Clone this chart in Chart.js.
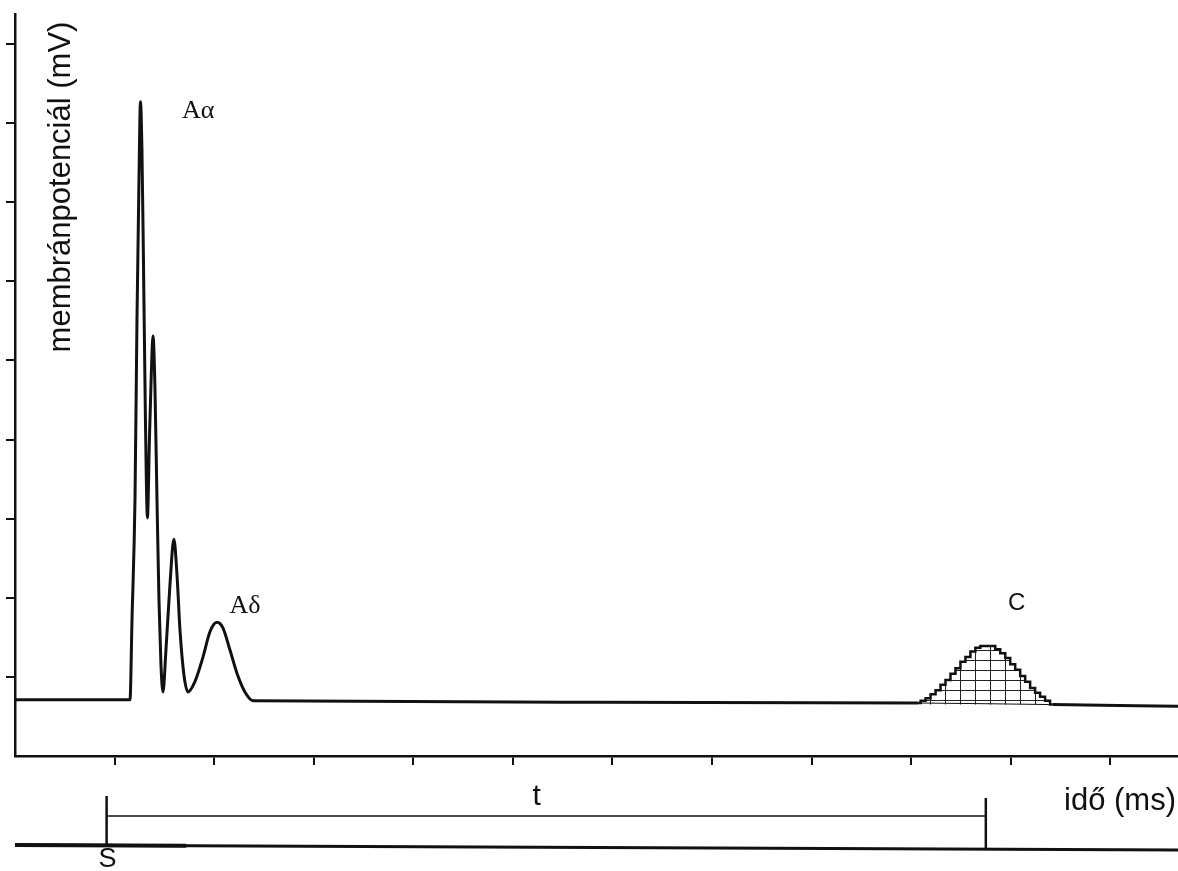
<!DOCTYPE html>
<html>
<head>
<meta charset="utf-8">
<script src="https://cdn.jsdelivr.net/npm/chart.js@4.4.1/dist/chart.umd.min.js"></script>
<style>
  html, body { margin: 0; padding: 0; background: #fff; }
  canvas { display: block; }
</style>
</head>
<body>
<canvas id="myChart" width="1178" height="871"></canvas>
<script>
// A rostok (Aα, Aβ/γ, Aδ) összetett akciós potenciálja
const idoA = [0, 1.155, 1.175, 1.205, 1.225, 1.245, 1.26, 1.275, 1.29, 1.31, 1.33, 1.35, 1.37, 1.386, 1.406, 1.426, 1.446, 1.466, 1.486, 1.516, 1.556, 1.596, 1.627, 1.657, 1.697, 1.737, 1.807, 1.888, 1.958, 2.028, 2.088, 2.159, 2.239, 2.309, 2.39, 5.87, 9.07, 10.42, 11.68];
const potA = [0.71, 0.71, 1.72, 3.24, 5.51, 7.28, 8.27, 7.66, 6.27, 4.25, 3.01, 4.0, 4.88, 5.31, 4.63, 3.24, 1.97, 1.15, 0.81, 1.34, 2.16, 2.74, 2.29, 1.59, 1.02, 0.81, 0.94, 1.25, 1.57, 1.69, 1.62, 1.34, 1.01, 0.81, 0.70, 0.68, 0.67, 0.65, 0.63];

// C rostok (lépcsős, sraffozott hullám)
const idoC = [9.07, 9.12, 9.17, 9.22, 9.27, 9.32, 9.37, 9.42, 9.47, 9.52, 9.57, 9.62, 9.67, 9.72, 9.77, 9.82, 9.87, 9.92, 9.97, 10.02, 10.07, 10.12, 10.17, 10.22, 10.27, 10.32, 10.37, 10.42];
const potC = [0.67, 0.70, 0.73, 0.78, 0.83, 0.90, 0.96, 1.04, 1.11, 1.19, 1.25, 1.32, 1.37, 1.39, 1.39, 1.39, 1.35, 1.30, 1.24, 1.16, 1.09, 1.01, 0.94, 0.86, 0.80, 0.75, 0.70, 0.65];
const alapvonalC = 0.65;

const xTicks = [1, 2, 3, 4, 5, 6, 7, 8, 9, 10, 11];
const yTicks = [1, 2, 3, 4, 5, 6, 7, 8, 9];

const ingerIdo = 0.92;   // S
const cCsucsIdo = 9.75;  // t vége

const cimkek = [
  { text: 'A\u03b1', x: 1.84, y: 8.15, font: '26px "Liberation Serif", "Times New Roman", serif' },
  { text: 'A\u03b4', x: 2.31, y: 1.90, font: '26px "Liberation Serif", "Times New Roman", serif' },
  { text: 'C', x: 10.06, y: 1.93, font: '24px "Liberation Sans", Arial, sans-serif' }
];

const ink = '#111';

// sraffozás minta
const tile = document.createElement('canvas');
tile.width = 15;
tile.height = 10;
const tctx = tile.getContext('2d');
tctx.fillStyle = '#fff';
tctx.fillRect(0, 0, 15, 10);
tctx.fillStyle = '#222';
tctx.fillRect(0, 0, 1, 10);
tctx.fillRect(0, 0, 15, 1);

const ctx = document.getElementById('myChart').getContext('2d');
const hatch = ctx.createPattern(tile, 'repeat');

const rajzPlugin = {
  id: 'rajz',
  afterDraw(chart) {
    const c = chart.ctx;
    const xs = chart.scales.x;
    const ys = chart.scales.y;
    const area = chart.chartArea;
    c.save();
    c.fillStyle = ink;
    c.strokeStyle = ink;
    c.textAlign = 'center';
    c.textBaseline = 'middle';

    // görbe címkék
    cimkek.forEach(l => {
      c.font = l.font;
      c.fillText(l.text, xs.getPixelForValue(l.x), ys.getPixelForValue(l.y));
    });

    // y tengely felirat
    c.save();
    c.translate(area.left + 46, area.top + 173);
    c.rotate(-Math.PI / 2);
    c.font = '31px "Liberation Sans", Arial, sans-serif';
    c.fillText('membránpotenciál (mV)', 0, 0);
    c.restore();

    const b = area.bottom;
    const xS = xs.getPixelForValue(ingerIdo);
    const xE = xs.getPixelForValue(cCsucsIdo);

    // alsó idővonal
    c.lineWidth = 3;
    c.beginPath();
    c.moveTo(area.left, b + 89);
    c.lineTo(area.right, b + 94);
    c.stroke();
    c.lineWidth = 4;
    c.beginPath();
    c.moveTo(area.left, b + 89);
    c.lineTo(xs.getPixelForValue(1.72), b + 89.7);
    c.stroke();

    // S és a t vége
    c.lineWidth = 2.5;
    c.beginPath();
    c.moveTo(xS, b + 40);
    c.lineTo(xS, b + 89);
    c.moveTo(xE, b + 42);
    c.lineTo(xE, b + 93);
    c.stroke();

    c.lineWidth = 1.5;
    c.beginPath();
    c.moveTo(xS, b + 60);
    c.lineTo(xE, b + 60);
    c.stroke();

    c.font = '30px "Liberation Sans", Arial, sans-serif';
    c.fillText('t', xs.getPixelForValue(5.24), b + 41);
    c.font = '27px "Liberation Sans", Arial, sans-serif';
    c.fillText('S', xS + 1, b + 104);
    c.textAlign = 'right';
    c.font = '31px "Liberation Sans", Arial, sans-serif';
    c.fillText('idő (ms)', area.right - 2, b + 45);
    c.restore();
  }
};

const myChart = new Chart(ctx, {
  type: 'line',
  data: {
    datasets: [{
      label: 'A',
      data: idoA.map((x, i) => ({ x: x, y: potA[i] })),
      borderColor: ink,
      borderWidth: 3,
      pointRadius: 0,
      cubicInterpolationMode: 'monotone',
      fill: false,
      segment: {
        borderWidth: s => (s.p0.parsed.x >= idoC[0] - 0.01 && s.p1.parsed.x <= idoC[idoC.length - 1] + 0.01) ? 1 : undefined
      }
    }, {
      label: 'C',
      data: idoC.map((x, i) => ({ x: x, y: potC[i] })),
      borderColor: ink,
      borderWidth: 2.5,
      pointRadius: 0,
      stepped: 'middle',
      backgroundColor: hatch,
      fill: { value: alapvonalC }
    }]
  },
  options: {
    responsive: false,
    animation: false,
    devicePixelRatio: 1,
    layout: { padding: { left: 0, top: 14, right: 0, bottom: 0 } },
    plugins: {
      legend: { display: false },
      tooltip: { enabled: false }
    },
    scales: {
      x: {
        type: 'linear',
        min: 0,
        max: 11.68,
        afterBuildTicks: s => { s.ticks = xTicks.map(v => ({ value: v })); },
        afterFit: s => { s.height = 115; },
        ticks: { display: false },
        grid: { drawOnChartArea: false, drawTicks: true, tickLength: 9, color: ink, lineWidth: 2 },
        border: { display: true, color: ink, width: 2.5 }
      },
      y: {
        type: 'linear',
        min: 0,
        max: 9.38,
        afterBuildTicks: s => { s.ticks = yTicks.map(v => ({ value: v })); },
        afterFit: s => { s.width = 15; },
        ticks: { display: false },
        grid: { drawOnChartArea: false, drawTicks: true, tickLength: 9, color: ink, lineWidth: 2 },
        border: { display: true, color: ink, width: 2.5 }
      }
    }
  },
  plugins: [rajzPlugin]
});
</script>
</body>
</html>
